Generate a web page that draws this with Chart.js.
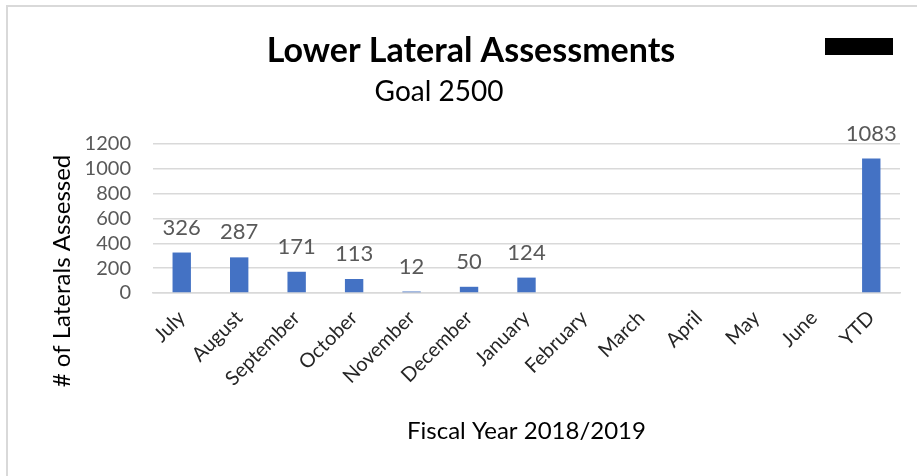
<!DOCTYPE html>
<html>
<head>
<meta charset="utf-8">
<script src="https://cdn.jsdelivr.net/npm/chart.js@4"></script>
<style>
  body{margin:0;background:#fff;}
  #wrap{position:relative;width:917px;height:476px;overflow:hidden;}
  #frame{position:absolute;left:6px;top:5px;right:-10px;bottom:-10px;border-left:2px solid #d9d9d9;border-top:2px solid #d9d9d9;}
  #blackout{position:absolute;left:825px;top:38px;width:68px;height:17px;background:#000;}
  #myChart{position:absolute;left:0;top:0;}
</style>
</head>
<body>
<div id="wrap">
  <div id="frame"></div>
  <canvas id="myChart" width="917" height="476"></canvas>
  <div id="blackout"></div>
</div>
<script>
const months=['July','August','September','October','November','December','January','February','March','April','May','June','YTD']
const assessed=[326,287,171,113,12,50,124,null,null,null,null,null,1083]
const yTicks=[0,200,400,600,800,1000,1200]

const chartTitle='Lower Lateral Assessments'
const chartSubtitle='Goal 2500'
const yTitle='# of Laterals Assessed'
const xTitle='Fiscal Year 2018/2019'

const FONT='Lato, "Open Sans", sans-serif'

// titles + y axis title + value labels, drawn by hand
const extras={
  id:'extras',
  afterDatasetsDraw(chart){
    const c=chart.ctx
    c.save()
    c.fillStyle='#000'
    c.textAlign='center'
    c.textBaseline='middle'
    c.font='bold 34px '+FONT
    c.fillText(chartTitle,471,51)
    c.font='28px '+FONT
    c.fillText(chartSubtitle,439,92)

    c.save()
    c.translate(62,271)
    c.rotate(-Math.PI/2)
    c.font='24px '+FONT
    c.fillText(yTitle,0,0)
    c.restore()

    c.fillStyle='#595959'
    c.font='22px '+FONT
    const meta=chart.getDatasetMeta(0)
    meta.data.forEach((bar,i)=>{
      const v=assessed[i]
      if(v==null) return
      c.fillText(String(v),bar.x,bar.y-25)
    })
    c.restore()
  }
}

const ctx=document.getElementById('myChart')
const config={
  type:'bar',
  data:{
    labels:months,
    datasets:[{
      label:'Assessed',
      data:assessed,
      backgroundColor:'#4472C4',
      borderWidth:0,
      categoryPercentage:1,
      barPercentage:0.32
    }]
  },
  options:{
    responsive:false,
    animation:false,
    layout:{padding:{left:0,top:144,right:17,bottom:0}},
    plugins:{
      legend:{display:false},
      title:{display:false},
      tooltip:{enabled:false}
    },
    scales:{
      y:{
        min:0,
        max:1200,
        afterFit(scale){scale.width=153},
        afterBuildTicks(scale){scale.ticks=yTicks.map(v=>({value:v}))},
        border:{display:false},
        grid:{color:'#d9d9d9',lineWidth:1.5,drawTicks:false},
        ticks:{
          color:'#595959',
          font:{family:FONT,size:20},
          padding:22,
          autoSkip:false,
          callback:(v)=>String(v)
        }
      },
      x:{
        afterFit(scale){scale.height=183},
        border:{display:true,color:'#d9d9d9',width:1.5},
        grid:{display:false,drawTicks:false},
        ticks:{
          color:'#262626',
          font:{family:FONT,size:20},
          minRotation:45,
          maxRotation:45,
          autoSkip:false,
          padding:13
        },
        title:{
          display:true,
          text:xTitle,
          color:'#000',
          font:{family:FONT,size:24},
          padding:{top:0,bottom:30}
        }
      }
    }
  },
  plugins:[extras]
}
const charts=new Chart(ctx,config)
</script>
</body>
</html>
